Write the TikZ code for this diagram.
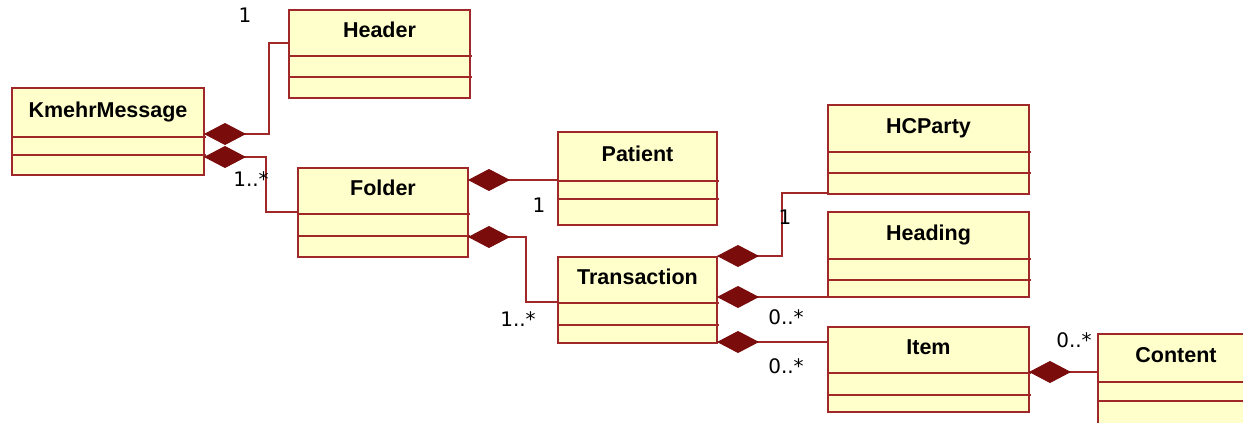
\documentclass[tikz,border=0pt]{standalone}
\usepackage{fontspec}
\setmainfont{Liberation Sans}
\newfontfamily\multfont{DejaVu Sans}
\usetikzlibrary{arrows.meta,calc}
\definecolor{umlred}{RGB}{160,40,40}
\definecolor{umldia}{RGB}{122,12,12}
\definecolor{umlfill}{RGB}{255,255,204}
\tikzset{
  cls/.style={draw=umlred, fill=umlfill, line width=2.8pt, rectangle, inner sep=0pt, outer sep=0pt, anchor=north west},
  ttl/.style={font=\bfseries\fontsize{21.5}{24}\selectfont, anchor=mid, inner sep=0pt},
  divl/.style={draw=umlred, line width=2.8pt},
  comp/.style={draw=umlred, line width=2.8pt, {Diamond[length=42pt,width=22pt,line width=1pt,color=umldia,fill=umldia]}-},
  mult/.style={font=\multfont\fontsize{20}{22}\selectfont, inner sep=0pt, anchor=mid},
}
\newcommand\umlclass[8]{%
  \node[cls, minimum width={#5-#3}, minimum height={#6-#4}] (#1) at (#3,#4) {};
  \node[ttl] (#1-t) at ({(#3+#5)/2},{(#4+#7)/2+2}) {#2};
  \draw[divl] (#1.west |- 0,#7) -- ([xshift=2pt]#1.east |- 0,#7);
  \draw[divl] (#1.west |- 0,#8) -- ([xshift=2pt]#1.east |- 0,#8);
}
\begin{document}
\begin{tikzpicture}[x=1pt,y=-1pt]
\path[clip, use as bounding box] (0,0) rectangle (1243,423);
\fill[white] (0,0) rectangle (1243,423);
\umlclass{header}{Header}{289}{10}{470}{98}{56}{77}
\umlclass{km}{KmehrMessage}{12}{88}{204}{175}{137}{155}
\umlclass{folder}{Folder}{298}{168}{468}{257}{214}{236}
\umlclass{patient}{Patient}{558}{132}{717}{225}{181}{199}
\umlclass{trans}{Transaction}{558}{257}{717}{343}{303}{325}
\umlclass{hcparty}{HCParty}{828}{105}{1029}{194}{152}{173}
\umlclass{heading}{Heading}{828}{212}{1029}{297}{259}{280}
\umlclass{item}{Item}{828}{327}{1029}{412}{373}{395}
\umlclass{content}{Content}{1098}{334}{1254}{432}{382}{401}
% connectors
\draw[comp] (km.east |- 0,134) -- (269,134) |- (header.west |- 0,43);
\draw[comp] (km.east |- 0,157) -- (266,157) |- (folder.west |- 0,212);
\draw[comp] (folder.east |- 0,180) -- (patient.west |- 0,180);
\draw[comp] (folder.east |- 0,237) -- (526,237) |- (trans.west |- 0,302);
\draw[comp] (trans.east |- 0,256) -- (782,256) |- (hcparty.west |- 0,193);
\draw[comp] (trans.east |- 0,297) -- (heading.west |- 0,297);
\draw[comp] (trans.east |- 0,342) -- (item.west |- 0,342);
\draw[comp] (item.east |- 0,372) -- (content.west |- 0,372);
% multiplicities
\node[mult] (m1) at (245,20) {1};
\node[mult] (m2) at (251,184) {1..*};
\node[mult] (m3) at (539,210) {1};
\node[mult] (m4) at (518,324) {1..*};
\node[mult] (m5) at (785,222) {1};
\node[mult] (m6) at (786,322) {0..*};
\node[mult] (m7) at (786,371) {0..*};
\node[mult] (m8) at (1074,345) {0..*};
\end{tikzpicture}
\end{document}
